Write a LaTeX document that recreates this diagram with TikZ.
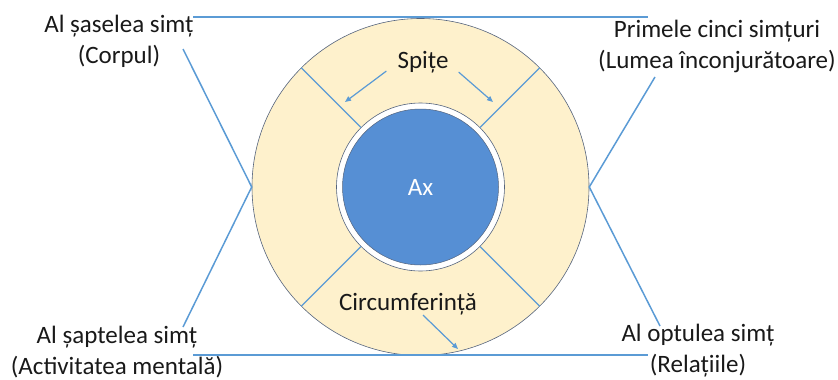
\documentclass[tikz,border=0pt]{standalone}
\usepackage{fontspec}
\setmainfont{Carlito}
\usepackage{tikz}
\usetikzlibrary{arrows.meta, positioning, calc}
\definecolor{mytext}{RGB}{25,25,25}
\definecolor{myline}{RGB}{91,155,213}
\definecolor{myaxis}{RGB}{86,143,212}
\definecolor{myrim}{RGB}{254,241,204}
\definecolor{myedge}{RGB}{85,100,125}
\tikzset{
  label/.style={align=center, text=mytext, inner sep=0pt,
    font=\fontsize{25}{31}\selectfont},
  link/.style={draw=myline, line width=1.5pt},
  spoke/.style={draw=myline, line width=1.3pt},
  pointer/.style={-{Triangle[length=6pt,width=5pt]}, draw=myline, fill=myline, line width=1.2pt}
}

\begin{document}
\begin{tikzpicture}[x=1pt,y=-1pt]
    \useasboundingbox (0,0) rectangle (838,380);
    % wheel
    \node[circle, draw=myedge, fill=myrim, line width=0.6pt, minimum size=337pt, inner sep=0pt] (rim) at (420.5,187) {};
    \node[circle, draw=myedge, fill=white, line width=0.6pt, minimum size=168pt, inner sep=0pt] (ring) at (rim.center) {};
    \node[circle, draw=myedge, fill=myaxis, line width=0.5pt, minimum size=156pt, inner sep=0pt] (ax) at (rim.center) {};
    \foreach \a in {45,135,225,315}
      \draw[spoke] (ring.\a) -- (rim.\a);
    \node[label, text=white] at (ax.center) {Ax};
    % labels
    \node[label] (spite) at (423,62) {Spițe};
    \node[label] (circ) at (408,304) {Circumferință};
    \node[label] (sase) at (119,41) {Al șaselea simț\\(Corpul)};
    \node[label] (cinci) at (717,46) {Primele cinci simțuri\\(Lumea înconjurătoare)};
    \node[label] (sapte) at (117,352) {Al șaptelea simț\\(Activitatea mentală)};
    \node[label] (opt) at (698,351) {Al optulea simț\\(Relațiile)};
    % arrows
    \coordinate (sl) at (345,102);
    \coordinate (sr) at (493,102);
    \coordinate (cb) at (458,349);
    \draw[pointer] ($(spite.south west)+(-11,-2)$) -- (sl);
    \draw[pointer] ($(spite.south east)+(10,-1)$) -- (sr);
    \draw[pointer] ($(circ.south)+(15,0)$) -- (cb);
    % cross lines
    \coordinate (tl) at (193,17);
    \coordinate (tr) at (648,17);
    \coordinate (bl) at (193,355);
    \coordinate (br) at (648,355);
    \draw[link] (tl) -- (tr);
    \draw[link] (bl) -- (br);
    \draw[link] (183,49) -- (rim.west) -- (183,327);
    \draw[link] (655,77) -- (rim.east) -- (660,326);
\end{tikzpicture}
\end{document}
